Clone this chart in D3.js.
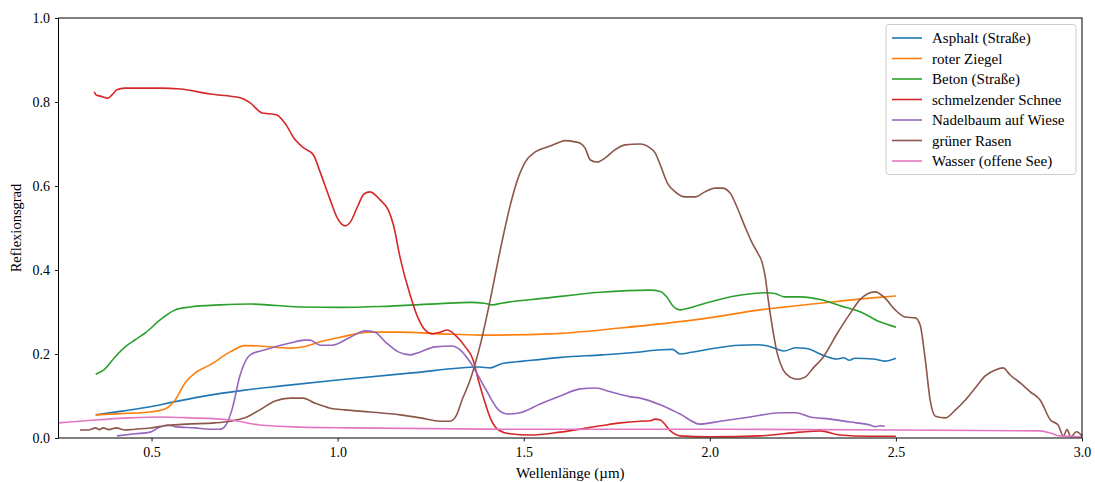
<!DOCTYPE html>
<html><head><meta charset="utf-8">
<script src="https://cdn.jsdelivr.net/npm/d3@7"></script>
<style>body{margin:0;background:#fff}svg{font-family:"Liberation Serif","DejaVu Serif",serif}</style>
</head><body><svg id="c" width="1095" height="482"></svg>
<script>
const xTicks=[0.5,1.0,1.5,2.0,2.5,3.0];
const yTicks=[0.0,0.2,0.4,0.6,0.8,1.0];
const names=["Asphalt (Straße)","roter Ziegel","Beton (Straße)","schmelzender Schnee","Nadelbaum auf Wiese","grüner Rasen","Wasser (offene See)"];
const colors=["#1f77b4","#ff7f0e","#2ca02c","#d62728","#9467bd","#8c564b","#e377c2"];
const asphalt=[[0.35,0.055],[0.42,0.064],[0.5,0.075],[0.56,0.086],[0.63,0.098],[0.75,0.114],[0.85,0.124],[1.0,0.138],[1.2,0.155],[1.38,0.169],[1.41,0.167],[1.44,0.177],[1.5,0.183],[1.6,0.192],[1.71,0.198],[1.79,0.203],[1.87,0.21],[1.9,0.211],[1.92,0.2],[1.95,0.204],[2.0,0.212],[2.08,0.221],[2.13,0.222],[2.16,0.218],[2.2,0.207],[2.23,0.215],[2.26,0.213],[2.31,0.195],[2.34,0.188],[2.36,0.191],[2.375,0.185],[2.39,0.19],[2.44,0.188],[2.47,0.183],[2.5,0.19]];
const brick=[[0.35,0.055],[0.415,0.058],[0.496,0.062],[0.536,0.069],[0.563,0.09],[0.59,0.131],[0.617,0.155],[0.657,0.174],[0.711,0.205],[0.751,0.22],[0.791,0.219],[0.872,0.214],[0.912,0.218],[0.953,0.229],[1.007,0.24],[1.087,0.252],[1.168,0.252],[1.276,0.248],[1.383,0.245],[1.571,0.248],[1.76,0.262],[1.974,0.283],[2.135,0.305],[2.296,0.321],[2.43,0.333],[2.5,0.338]];
const concrete=[[0.35,0.152],[0.372,0.162],[0.402,0.193],[0.429,0.217],[0.456,0.234],[0.483,0.25],[0.523,0.281],[0.563,0.305],[0.603,0.312],[0.684,0.317],[0.765,0.319],[0.899,0.312],[1.007,0.311],[1.114,0.313],[1.276,0.32],[1.356,0.323],[1.394,0.321],[1.416,0.317],[1.44,0.321],[1.558,0.333],[1.706,0.347],[1.84,0.352],[1.867,0.349],[1.885,0.335],[1.902,0.313],[1.92,0.305],[1.947,0.31],[2.0,0.324],[2.08,0.34],[2.148,0.346],[2.175,0.344],[2.2,0.336],[2.243,0.336],[2.3,0.329],[2.35,0.315],[2.405,0.3],[2.458,0.276],[2.5,0.264]];
const snow=[[0.346,0.824],[0.352,0.816],[0.362,0.814],[0.383,0.809],[0.395,0.818],[0.407,0.829],[0.428,0.833],[0.523,0.833],[0.577,0.831],[0.657,0.819],[0.738,0.81],[0.765,0.798],[0.797,0.774],[0.818,0.772],[0.837,0.769],[0.858,0.75],[0.886,0.71],[0.91,0.69],[0.935,0.674],[0.953,0.633],[0.98,0.567],[0.999,0.524],[1.02,0.505],[1.034,0.514],[1.053,0.55],[1.071,0.581],[1.087,0.586],[1.114,0.567],[1.136,0.543],[1.15,0.507],[1.168,0.429],[1.195,0.34],[1.216,0.286],[1.235,0.257],[1.254,0.248],[1.276,0.252],[1.294,0.257],[1.316,0.245],[1.343,0.217],[1.364,0.186],[1.378,0.138],[1.394,0.09],[1.41,0.048],[1.432,0.019],[1.463,0.01],[1.517,0.007],[1.598,0.014],[1.706,0.029],[1.76,0.036],[1.813,0.04],[1.84,0.041],[1.853,0.045],[1.867,0.043],[1.894,0.017],[1.92,0.005],[2.0,0.003],[2.135,0.005],[2.243,0.014],[2.296,0.017],[2.35,0.007],[2.43,0.004],[2.5,0.004]];
const conifer=[[0.407,0.005],[0.456,0.01],[0.496,0.014],[0.523,0.026],[0.542,0.031],[0.563,0.027],[0.617,0.024],[0.657,0.021],[0.684,0.021],[0.7,0.031],[0.716,0.067],[0.738,0.15],[0.765,0.198],[0.805,0.21],[0.872,0.226],[0.912,0.233],[0.926,0.233],[0.953,0.221],[0.985,0.221],[1.034,0.24],[1.074,0.255],[1.1,0.252],[1.128,0.229],[1.163,0.205],[1.195,0.198],[1.222,0.205],[1.262,0.217],[1.307,0.219],[1.329,0.21],[1.356,0.181],[1.396,0.119],[1.432,0.067],[1.458,0.057],[1.49,0.06],[1.544,0.081],[1.598,0.1],[1.652,0.117],[1.693,0.119],[1.733,0.11],[1.787,0.098],[1.813,0.095],[1.867,0.079],[1.92,0.057],[1.974,0.033],[2.028,0.04],[2.108,0.05],[2.19,0.06],[2.23,0.06],[2.27,0.05],[2.323,0.045],[2.377,0.038],[2.43,0.031],[2.445,0.027],[2.458,0.029],[2.47,0.028]];
const grass=[[0.308,0.019],[0.33,0.019],[0.35,0.024],[0.36,0.02],[0.37,0.024],[0.385,0.02],[0.405,0.024],[0.429,0.019],[0.456,0.021],[0.496,0.024],[0.536,0.029],[0.59,0.033],[0.67,0.036],[0.711,0.04],[0.751,0.048],[0.791,0.067],[0.832,0.088],[0.872,0.095],[0.907,0.095],[0.939,0.083],[0.98,0.071],[1.02,0.067],[1.087,0.062],[1.168,0.055],[1.222,0.048],[1.276,0.04],[1.302,0.04],[1.318,0.052],[1.334,0.09],[1.356,0.138],[1.383,0.221],[1.41,0.329],[1.437,0.448],[1.464,0.555],[1.483,0.614],[1.504,0.657],[1.531,0.681],[1.571,0.695],[1.598,0.705],[1.611,0.708],[1.638,0.705],[1.652,0.702],[1.665,0.69],[1.679,0.662],[1.698,0.657],[1.719,0.667],[1.745,0.686],[1.772,0.698],[1.813,0.7],[1.84,0.69],[1.853,0.679],[1.867,0.65],[1.886,0.607],[1.907,0.586],[1.934,0.574],[1.96,0.574],[1.987,0.586],[2.014,0.595],[2.033,0.595],[2.055,0.583],[2.073,0.55],[2.095,0.502],[2.114,0.464],[2.127,0.443],[2.141,0.417],[2.149,0.383],[2.157,0.329],[2.168,0.264],[2.181,0.202],[2.197,0.162],[2.216,0.145],[2.235,0.14],[2.256,0.145],[2.278,0.167],[2.305,0.193],[2.343,0.25],[2.378,0.298],[2.404,0.33],[2.444,0.348],[2.471,0.333],[2.498,0.305],[2.525,0.288],[2.552,0.286],[2.565,0.269],[2.579,0.186],[2.592,0.09],[2.606,0.052],[2.633,0.048],[2.66,0.067],[2.686,0.09],[2.713,0.119],[2.74,0.148],[2.767,0.162],[2.788,0.167],[2.807,0.15],[2.834,0.131],[2.861,0.11],[2.888,0.09],[2.915,0.043],[2.936,0.031],[2.95,0.005],[2.96,0.02],[2.97,0.003],[2.985,0.015],[3.0,0.005]];
const water=[[0.25,0.036],[0.348,0.043],[0.442,0.048],[0.523,0.05],[0.603,0.048],[0.711,0.043],[0.791,0.031],[0.899,0.026],[1.034,0.024],[1.437,0.021],[1.974,0.021],[2.51,0.019],[2.888,0.017],[2.915,0.012],[2.94,0.005],[3.0,0.003]];
const series=[asphalt,brick,concrete,snow,conifer,grass,water];

const svg=d3.select("#c");
const m={l:58.5,r:1082,t:18,b:438};
const x=d3.scaleLinear().domain([0.25,3.0]).range([m.l,m.r]);
const y=d3.scaleLinear().domain([0,1]).range([m.b,m.t]);
const line=d3.line().x(d=>x(d[0])).y(d=>y(d[1])).curve(d3.curveMonotoneX);

series.forEach((s,i)=>{
  svg.append("path").datum(s).attr("d",line).attr("fill","none")
    .attr("stroke",colors[i]).attr("stroke-width",1.6).attr("stroke-linejoin","round");
});

const xa=svg.append("g").attr("transform",`translate(0,${m.b})`)
  .call(d3.axisBottom(x).tickValues(xTicks).tickFormat(d3.format(".1f")).tickSize(3.5).tickPadding(6));
const ya=svg.append("g").attr("transform",`translate(${m.l},0)`)
  .call(d3.axisLeft(y).tickValues(yTicks).tickFormat(d3.format(".1f")).tickSize(3.5).tickPadding(5));
[xa,ya].forEach(a=>{a.select(".domain").remove();a.selectAll("text").attr("font-size",14).attr("font-family","Liberation Serif, serif").attr("fill","#000");a.selectAll("line").attr("stroke","#000").attr("stroke-width",0.9);});
svg.append("rect").attr("x",m.l).attr("y",m.t).attr("width",m.r-m.l).attr("height",m.b-m.t)
  .attr("fill","none").attr("stroke","#000").attr("stroke-width",1);

svg.append("text").attr("x",(m.l+m.r)/2).attr("y",478).attr("text-anchor","middle").attr("font-size",15).text("Wellenlänge (µm)");
svg.append("text").attr("transform",`translate(21,${(m.t+m.b)/2}) rotate(-90)`).attr("text-anchor","middle").attr("font-size",14.5).text("Reflexionsgrad");

const lg=svg.append("g");
lg.append("rect").attr("x",886).attr("y",24.5).attr("width",190).attr("height",150).attr("rx",3)
  .attr("fill","#fff").attr("fill-opacity",0.8).attr("stroke","#ccc").attr("stroke-width",1);
names.forEach((n,i)=>{
  const yy=38+i*20.5;
  lg.append("line").attr("x1",892).attr("x2",922).attr("y1",yy).attr("y2",yy).attr("stroke",colors[i]).attr("stroke-width",1.6);
  lg.append("text").attr("x",932).attr("y",yy+5).attr("font-size",15).attr("textLength",null).text(n);
});
</script></body></html>
